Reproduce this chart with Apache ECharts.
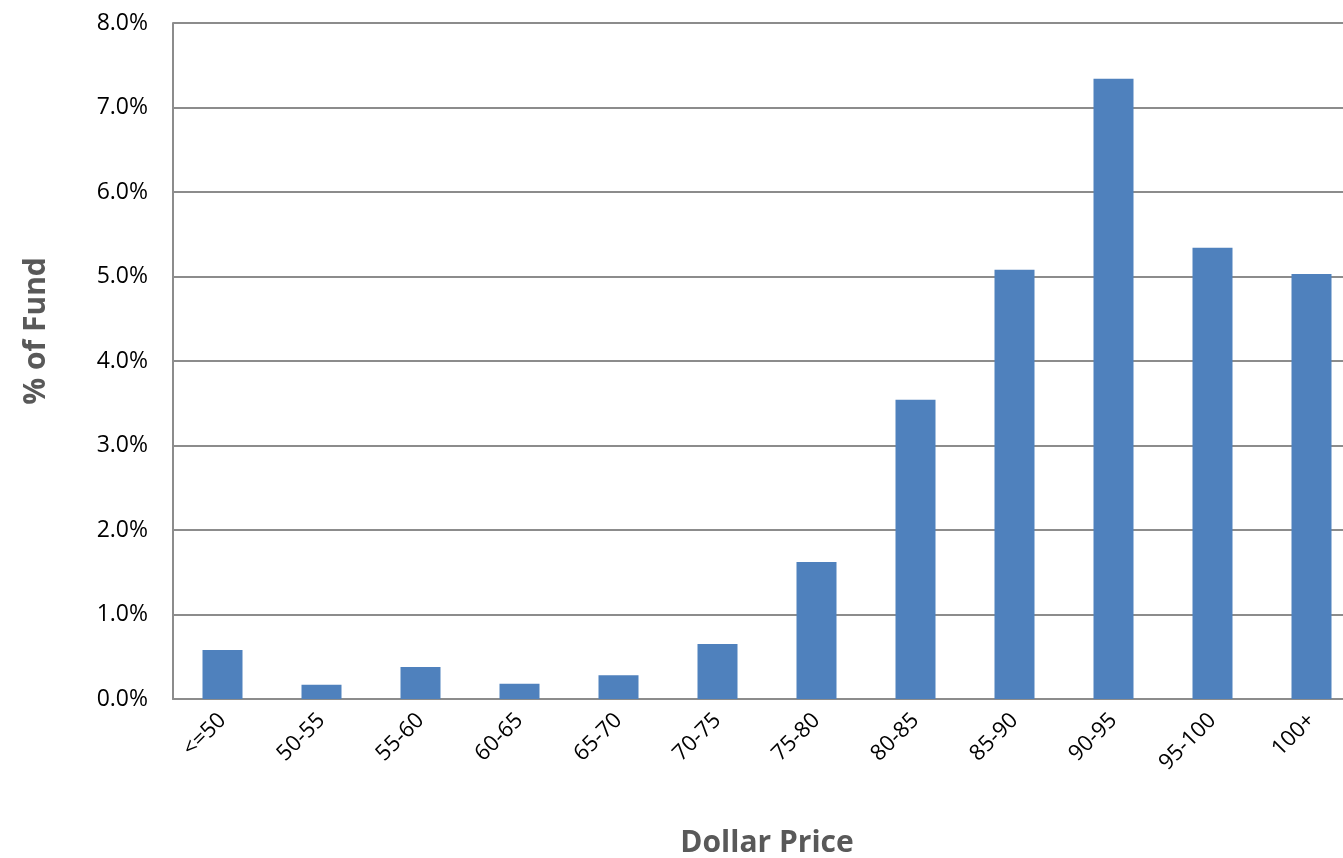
<!DOCTYPE html>
<html>
<head>
<meta charset="utf-8">
<script src="https://cdn.jsdelivr.net/npm/echarts@6/dist/echarts.min.js"></script>
<style>
  html, body { margin: 0; padding: 0; background: #fff; }
  #chart { width: 1343px; height: 858px; }
</style>
</head>
<body>
<div id="chart"></div>
<script>
// price buckets and share of fund (%)
var priceBuckets = ['<=50', '50-55', '55-60', '60-65', '65-70', '70-75', '75-80', '80-85', '85-90', '90-95', '95-100', '100+'];
var fundShare = [0.58, 0.17, 0.38, 0.18, 0.28, 0.65, 1.62, 3.54, 5.08, 7.34, 5.34, 5.03];
var yTicks = [0, 1, 2, 3, 4, 5, 6, 7, 8];

var font = '"Open Sans", "Liberation Sans", sans-serif';
var chart = echarts.init(document.getElementById('chart'));

var option = {
    animation: false,
    // plot runs a bit past the right edge, like the original
    grid: { left: 173, top: 23, width: 1188, bottom: 159, outerBoundsMode: 'none' },
    xAxis: {
        type: 'category',
        data: priceBuckets,
        name: 'Dollar Price',
        nameLocation: 'middle',
        nameGap: 129,
        nameTextStyle: { fontFamily: font, fontSize: 30, fontWeight: 'bold', color: '#595959' },
        axisLine: { lineStyle: { color: '#8c8c8c', width: 2 } },
        axisTick: { show: false },
        axisLabel: { rotate: 45, margin: 18, fontFamily: font, fontSize: 22, color: '#000', interval: 0, padding: [0, 0, 0, 0] }
    },
    yAxis: {
        type: 'value',
        min: yTicks[0],
        max: yTicks[yTicks.length - 1],
        interval: 1,
        name: '% of Fund',
        nameLocation: 'middle',
        nameGap: 122,
        nameTextStyle: { fontFamily: font, fontSize: 30, fontWeight: 'bold', color: '#595959', padding: [0, 0, 0, 60] },
        axisLine: { show: true, lineStyle: { color: '#8c8c8c', width: 2 } },
        axisTick: { show: false },
        splitLine: { lineStyle: { color: '#8c8c8c', width: 2 } },
        axisLabel: {
            margin: 25, fontFamily: font, fontSize: 23, color: '#000',
            formatter: function (v) { return v.toFixed(1) + '%'; }
        }
    },
    series: [{
        type: 'bar',
        data: fundShare,
        barWidth: 40,
        itemStyle: { color: '#4f81bd' }
    }]
};
chart.setOption(option);
</script>
</body>
</html>
